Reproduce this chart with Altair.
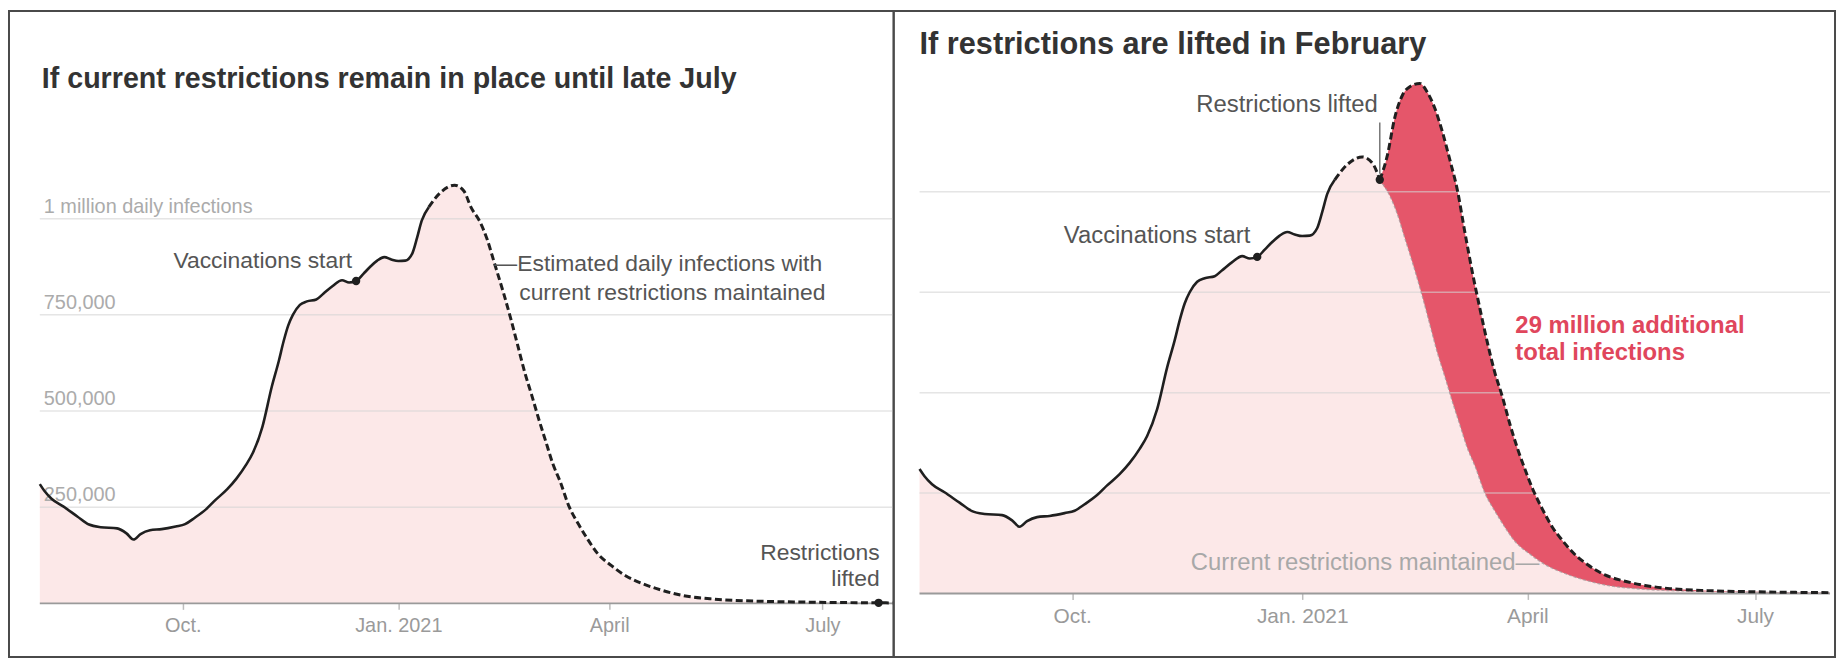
import altair as alt
import pandas as pd

# ---------------- data ----------------
obs_dates = [
    "2020-08-01", "2020-08-03", "2020-08-06", "2020-08-11", "2020-08-17", "2020-08-22",
    "2020-08-27", "2020-09-03", "2020-09-07", "2020-09-10", "2020-09-13", "2020-09-17",
    "2020-09-22", "2020-09-28", "2020-10-02", "2020-10-06", "2020-10-11", "2020-10-15",
    "2020-10-20", "2020-10-24", "2020-10-28", "2020-10-31", "2020-11-04", "2020-11-08",
    "2020-11-11", "2020-11-13", "2020-11-15", "2020-11-17", "2020-11-20", "2020-11-23",
    "2020-11-27", "2020-11-30", "2020-12-04", "2020-12-08", "2020-12-11", "2020-12-14",
    "2020-12-17", "2020-12-20", "2020-12-23", "2020-12-26", "2020-12-29", "2021-01-01",
    "2021-01-04", "2021-01-07", "2021-01-09", "2021-01-11", "2021-01-14",
]
obs_values = [
    310000, 292000, 272000, 252000, 226000, 205000,
    198000, 195000, 182000, 166000, 180000, 190000,
    193000, 200000, 206000, 222000, 245000, 269000,
    297000, 325000, 360000, 392000, 459000, 563000,
    630000, 680000, 722000, 750000, 776000, 785000,
    790000, 805000, 825000, 840000, 834000, 838000,
    856000, 875000, 891000, 900000, 894000, 890000,
    891000, 910000, 950000, 995000, 1030000,
]

# projection with current restrictions maintained
proj_dates = [
    "2021-01-14", "2021-01-19", "2021-01-25", "2021-01-29", "2021-02-01", "2021-02-05",
    "2021-02-08", "2021-02-11", "2021-02-15", "2021-02-18", "2021-02-21", "2021-02-24",
    "2021-02-27", "2021-03-02", "2021-03-05", "2021-03-08", "2021-03-11", "2021-03-15",
    "2021-03-19", "2021-03-23", "2021-03-27", "2021-04-02", "2021-04-08", "2021-04-15",
    "2021-04-23", "2021-05-02", "2021-05-16", "2021-06-02", "2021-06-22", "2021-07-12",
    "2021-07-25", "2021-07-31",
]
proj_values = [
    1030000, 1068000, 1087000, 1072000, 1030000, 990000,
    945000, 885000, 805000, 740000, 670000, 600000,
    540000, 478000, 420000, 362000, 318000, 250000,
    205000, 165000, 130000, 98000, 72000, 52000,
    35000, 21000, 11000, 6000, 3500, 2000,
    1500, 1200,
]

# projection if restrictions are lifted Feb. 1
lifted_dates = [
    "2021-02-01", "2021-02-04", "2021-02-07", "2021-02-10", "2021-02-13", "2021-02-17",
    "2021-02-20", "2021-02-23", "2021-02-26", "2021-03-01", "2021-03-04", "2021-03-07",
    "2021-03-10", "2021-03-13", "2021-03-16", "2021-03-19", "2021-03-22", "2021-03-25",
    "2021-03-28", "2021-03-31", "2021-04-03", "2021-04-07", "2021-04-11", "2021-04-15",
    "2021-04-20", "2021-04-25", "2021-05-02", "2021-05-09", "2021-05-18", "2021-05-28",
    "2021-06-12", "2021-07-02", "2021-07-31",
]
lifted_values = [
    1030000, 1090000, 1185000, 1240000, 1262000, 1270000,
    1248000, 1208000, 1150000, 1080000, 1005000, 900000,
    800000, 710000, 625000, 550000, 490000, 422000,
    362000, 310000, 262000, 210000, 165000, 132000,
    97000, 72000, 46000, 32000, 20000, 12000,
    7000, 4000, 2000,
]

grid_values = [250000, 500000, 750000, 1000000]
grid_labels = ["250,000", "500,000", "750,000", "1 million daily infections"]

tick_dates = ["2020-10-01", "2021-01-01", "2021-04-01", "2021-07-01"]
tick_labels = ["Oct.", "Jan. 2021", "April", "July"]

domain_start = "2020-08-01"
domain_end = "2021-07-31"

vacc_date, vacc_value = "2020-12-14", 838000
lift_feb_date, lift_feb_value = "2021-02-01", 1030000
lift_jul_date, lift_jul_value = "2021-07-25", 1500
leader_top, leader_bottom = 1173000, 1045000
est_note_date, est_note_value = "2021-02-11", 881000
red_note_date, red_note_value = "2021-03-28", 634000
cur_note_date, cur_note_value = "2021-04-05", 76000

title_left = "If current restrictions remain in place until late July"
title_right = "If restrictions are lifted in February"

# ---------------- styles ----------------
FONT = "Liberation Sans"
INK = "#1f1f1f"
PINK = "#fce8e8"
RED = "#e5566a"
REDTEXT = "#e0465c"
GRID = "#d4d4d4"
NOTE = "#555555"
LIGHT = "#a8a8a8"

obs_df = pd.DataFrame({"date": obs_dates, "value": obs_values})
proj_df = pd.DataFrame({"date": proj_dates, "value": proj_values})
lifted_df = pd.DataFrame({"date": lifted_dates, "value": lifted_values})
current_df = pd.concat([obs_df, proj_df.iloc[1:]], ignore_index=True)
proj_pre = proj_df[proj_df["date"] <= lift_feb_date]
proj_post = proj_df[proj_df["date"] >= lift_feb_date]
grid_df = pd.DataFrame({"start": domain_start, "end": domain_end,
                        "value": grid_values, "label": grid_labels})
base_df = pd.DataFrame({"start": [domain_start], "end": [domain_end], "value": [0]})


def dt(s):
    y, m, d = map(int, s.split("-"))
    return alt.DateTime(year=y, month=m, date=d, utc=True)


conds = []
for s, lab in zip(tick_dates, tick_labels):
    y, m, d = map(int, s.split("-"))
    conds.append(f"(utcyear(datum.value) == {y} && utcmonth(datum.value) == {m - 1}) ? '{lab}'")
label_expr = " : ".join(conds) + " : ''"


def make_axis(offset, pad, size):
    return alt.Axis(values=[dt(s) for s in tick_dates], labelExpr=label_expr,
                    orient="bottom", offset=offset, domain=False, grid=False,
                    ticks=True, tickSize=6, tickColor="#bdbdbd", tickWidth=1.5,
                    labelFont=FONT, labelFontSize=size, labelColor="#9a9a9a",
                    labelBaseline="middle", labelPadding=pad, labelFlush=False,
                    labelOverlap=False, title=None)


def panel(width, height, xrange, yrange, axis_offset, label_pad, fs, right):
    xs = alt.Scale(type="utc", domain=[dt(domain_start), dt(domain_end)],
                   range=xrange, nice=False)
    ys = alt.Scale(domain=[0, 1000000], range=yrange, nice=False)
    ax = make_axis(axis_offset, label_pad, round(fs * 0.87))

    def X(field):
        return alt.X(f"{field}:T", scale=xs, axis=ax)

    def Y(field):
        return alt.Y(f"{field}:Q", scale=ys, axis=None)

    layers = []
    if right:
        layers.append(alt.Chart(lifted_df).mark_area(color=RED, interpolate="monotone")
                      .encode(x=X("date"), y=Y("value")))
    layers.append(alt.Chart(current_df).mark_area(color=PINK, interpolate="monotone")
                  .encode(x=X("date"), y=Y("value")))
    layers.append(alt.Chart(grid_df).mark_rule(color=GRID, strokeWidth=1.5, opacity=0.6)
                  .encode(x=X("start"), x2=alt.X2("end"), y=Y("value")))
    layers.append(alt.Chart(base_df).mark_rule(color="#9a9a9a", strokeWidth=2)
                  .encode(x=X("start"), x2=alt.X2("end"), y=Y("value")))
    if not right:
        layers.append(alt.Chart(grid_df).mark_text(align="left", baseline="middle", dx=4, dy=-12,
                                                   font=FONT, fontSize=20, color="#ababab")
                      .encode(x=X("start"), y=Y("value"), text="label:N"))
    layers.append(alt.Chart(obs_df).mark_line(color=INK, strokeWidth=2.6, interpolate="monotone")
                  .encode(x=X("date"), y=Y("value")))
    if right:
        layers.append(alt.Chart(proj_post).mark_line(color="#a99a9c", strokeWidth=1.3,
                                                     strokeDash=[3, 2], opacity=0.8,
                                                     interpolate="monotone")
                      .encode(x=X("date"), y=Y("value")))
        layers.append(alt.Chart(proj_pre).mark_line(color=INK, strokeWidth=3, strokeDash=[7, 3.5],
                                                    interpolate="monotone")
                      .encode(x=X("date"), y=Y("value")))
        layers.append(alt.Chart(lifted_df).mark_line(color=INK, strokeWidth=3, strokeDash=[7, 3.5],
                                                     interpolate="monotone")
                      .encode(x=X("date"), y=Y("value")))
        dots = pd.DataFrame({"date": [vacc_date, lift_feb_date],
                             "value": [vacc_value, lift_feb_value]})
    else:
        layers.append(alt.Chart(proj_df).mark_line(color=INK, strokeWidth=3, strokeDash=[7, 3.5],
                                                   interpolate="monotone")
                      .encode(x=X("date"), y=Y("value")))
        dots = pd.DataFrame({"date": [vacc_date, lift_jul_date],
                             "value": [vacc_value, lift_jul_value]})
    layers.append(alt.Chart(dots).mark_point(filled=True, color=INK, size=70, opacity=1)
                  .encode(x=X("date"), y=Y("value")))

    def note(date, value, text, align, dx, dy, color=NOTE, bold=False, size=fs):
        df = pd.DataFrame({"date": [date], "value": [value], "t": [text]})
        return (alt.Chart(df).mark_text(align=align, baseline="middle", dx=dx, dy=dy,
                                        font=FONT, fontSize=size, color=color,
                                        fontWeight="bold" if bold else "normal")
                .encode(x=X("date"), y=Y("value"), text="t:N"))

    if not right:
        layers.append(note(vacc_date, vacc_value, "Vaccinations start", "right", -4, -20))
        layers.append(note(est_note_date, est_note_value, "\u2014Estimated daily infections with",
                           "left", 0, 0))
        layers.append(note(est_note_date, est_note_value, "current restrictions maintained",
                           "left", 25, 29))
        layers.append(note(lift_jul_date, lift_jul_value, "Restrictions", "right", 1, -50))
        layers.append(note(lift_jul_date, lift_jul_value, "lifted", "right", 1, -24))
        title_df = pd.DataFrame({"t": [title_left]})
        layers.append(alt.Chart(title_df).mark_text(align="left", baseline="middle", font=FONT,
                                                    fontSize=28.8, fontWeight="bold", color="#333333")
                      .encode(x=alt.value(33), y=alt.value(69), text="t:N"))
    else:
        lead = pd.DataFrame({"date": [lift_feb_date], "top": [leader_top], "bottom": [leader_bottom]})
        layers.append(alt.Chart(lead).mark_rule(color="#777777", strokeWidth=1.5)
                      .encode(x=X("date"), y=Y("top"), y2=alt.Y2("bottom")))
        layers.append(note(lift_feb_date, lift_feb_value, "Restrictions lifted", "right", -2, -75))
        layers.append(note(vacc_date, vacc_value, "Vaccinations start", "right", -7, -21))
        layers.append(note(red_note_date, red_note_value, "29 million additional", "left", -2, -13,
                           color=REDTEXT, bold=True))
        layers.append(note(red_note_date, red_note_value, "total infections", "left", -2, 14,
                           color=REDTEXT, bold=True))
        layers.append(note(cur_note_date, cur_note_value, "Current restrictions maintained\u2014",
                           "right", 2, 0, color=LIGHT))
        title_df = pd.DataFrame({"t": [title_right]})
        layers.append(alt.Chart(title_df).mark_text(align="left", baseline="middle", font=FONT,
                                                    fontSize=30.9, fontWeight="bold", color="#333333")
                      .encode(x=alt.value(26), y=alt.value(34), text="t:N"))

    return alt.layer(*layers).properties(width=width, height=height)


left = panel(890, 650, [31, 889], [596, 209], -54, 16, 23, False)
right = panel(947, 650, [26, 942], [586, 182], -64, 17, 24, True)

chart = (
    alt.hconcat(left, right, spacing=0, bounds="flush")
    .properties(padding=0, background="white")
    .configure(font=FONT)
    .configure_view(stroke="#4a4a4a", strokeWidth=2)
)

chart.save("out.html", embed_options={"renderer": "svg", "actions": False})
